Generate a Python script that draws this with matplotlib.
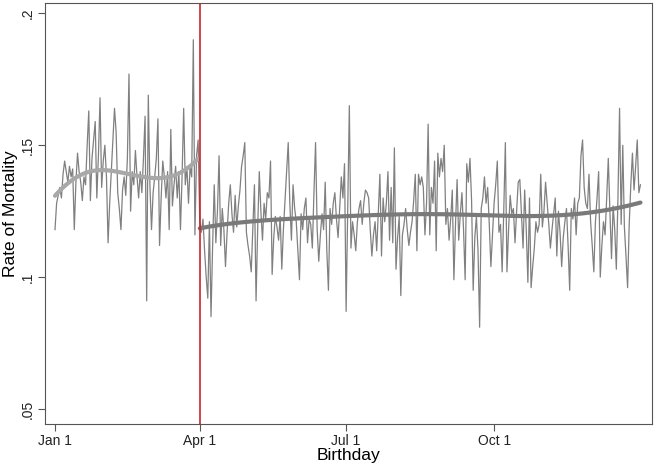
import matplotlib
matplotlib.use("Agg")
import matplotlib.pyplot as plt
import numpy as np

plt.rcParams['font.family'] = ['Liberation Sans', 'DejaVu Sans']

# daily mortality rate by birthday
jan = [.118, .128, .131, .134, .130, .139, .144, .140, .136, .142, .138, .141, .118, .136, .147, .140,
       .136, .129, .138, .135, .150, .163, .129, .145, .152, .159, .130, .146, .168, .134, .144]
feb = [.150, .138, .113, .128, .140, .152, .164, .155, .132, .126, .118, .133, .138, .131, .145, .177,
       .125, .140, .135, .148, .138, .130, .140, .132, .145, .161, .091, .169]
mar = [.135, .118, .132, .138, .145, .160, .112, .130, .144, .138, .130, .140, .118, .156, .127, .135,
       .142, .130, .140, .118, .138, .164, .135, .142, .128, .142, .138, .190, .116, .146, .152]
apr = [.121, .117, .122, .110, .100, .092, .121, .085, .112, .135, .113, .125, .146, .112, .126, .118,
       .104, .117, .128, .135, .124, .117, .131, .119, .127, .133, .142, .146, .151, .117]
may = [.112, .108, .102, .118, .135, .091, .118, .140, .125, .114, .128, .122, .132, .130, .144, .101,
       .115, .123, .119, .114, .123, .103, .118, .129, .140, .151, .128, .114, .135, .126, .121]
jun = [.110, .099, .124, .118, .126, .130, .113, .122, .120, .111, .132, .151, .118, .106, .116, .124,
       .118, .136, .110, .095, .126, .120, .128, .132, .122, .115, .126, .138, .130, .143]
jul = [.087, .125, .165, .111, .121, .116, .110, .121, .126, .129, .120, .128, .133, .132, .130, .118,
       .108, .116, .121, .110, .125, .139, .108, .130, .121, .128, .140, .114, .134, .113, .149]
aug = [.103, .115, .123, .093, .116, .120, .126, .118, .112, .117, .121, .129, .139, .110, .139, .135,
       .138, .134, .116, .128, .158, .116, .134, .128, .144, .110, .147, .138, .145, .140, .150]
sep = [.120, .126, .114, .122, .133, .099, .120, .137, .114, .124, .132, .118, .099, .143, .136, .145,
       .129, .095, .115, .123, .110, .081, .126, .130, .138, .128, .134, .120, .104, .116]
oct_ = [.128, .135, .144, .117, .120, .102, .125, .151, .102, .118, .131, .124, .126, .113, .125, .136,
        .137, .124, .111, .133, .118, .098, .130, .096, .104, .111, .121, .117, .120, .139, .119]
nov = [.125, .136, .128, .120, .111, .118, .124, .130, .108, .125, .117, .104, .115, .121, .126, .112,
       .095, .126, .122, .130, .116, .128, .130, .146, .152, .134, .128, .126, .139, .121]
dec = [.112, .102, .121, .130, .140, .100, .112, .121, .116, .130, .145, .125, .107, .127, .118, .103,
       .130, .164, .120, .150, .119, .108, .096, .120, .135, .147, .133, .142, .152, .132, .135]

tick_days = [0, 90, 181, 273]
tick_labels = ['Jan 1', 'Apr 1', 'Jul 1', 'Oct 1']
cutoff = 90  # Apr 1

rate = np.array(jan + feb + mar + apr + may + jun + jul + aug + sep + oct_ + nov + dec)
day = np.arange(len(rate))


def local_linear(x, y, bw):
    # gaussian kernel local linear smoother (like Stata lpoly)
    fit = np.empty(len(x))
    for i, x0 in enumerate(x):
        w = np.exp(-0.5 * ((x - x0) / bw) ** 2)
        X = np.column_stack([np.ones_like(x, dtype=float), x - x0])
        W = X * w[:, None]
        beta = np.linalg.solve(X.T @ W, W.T @ y)
        fit[i] = beta[0]
    return fit


fig = plt.figure(figsize=(6.55, 4.68), dpi=100)
ax = fig.add_axes([0.068, 0.094, 0.927, 0.9])

ax.plot(day, rate, color='#808080', lw=0.9)

before = day < cutoff
after = ~before
fit1 = local_linear(day[before].astype(float), rate[before], 14)
fit2 = local_linear(day[after].astype(float), rate[after], 45)
ax.plot(day[before], fit1, color='#a8a8a8', lw=3, solid_capstyle='round')
ax.plot(day[after], fit2, color='#7a7a7a', lw=3, solid_capstyle='round')

ax.axvline(cutoff, color='#c8242b', lw=1.2)

ax.set_xlim(-6.5, 371)
ax.set_ylim(0.0443, 0.204)
ax.set_xticks(tick_days)
ax.set_xticklabels(tick_labels)
ax.set_yticks([0.05, 0.1, 0.15, 0.2])
ax.set_yticklabels(['.05', '.1', '.15', '.2'], rotation=90, va='center')
ax.tick_params(direction='out', length=5, pad=2, color='#555555', labelsize=10, labelcolor='#222222')
for s in ax.spines.values():
    s.set_color('#555555')
ax.set_xlabel('Birthday', fontsize=12.5, labelpad=0)
ax.set_ylabel('Rate of Mortality', fontsize=12.5, labelpad=2)

fig.savefig('out.png', dpi=100)
